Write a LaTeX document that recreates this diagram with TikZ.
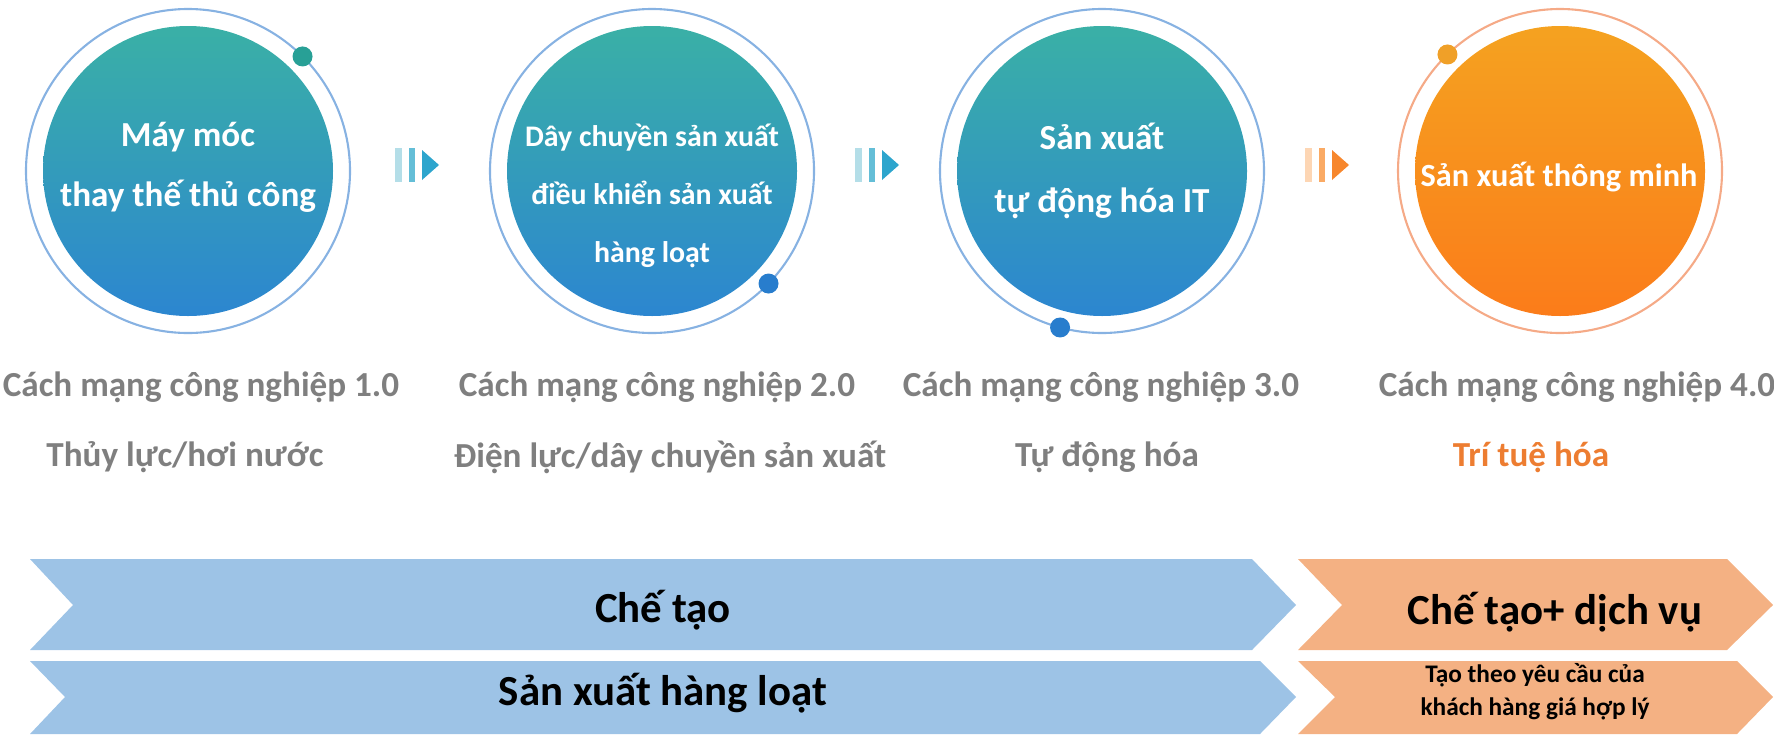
\documentclass[tikz,border=0pt]{standalone}
\usepackage{fontspec}
\setmainfont{Carlito}
\usetikzlibrary{shapes.geometric}

\definecolor{balltop}{RGB}{58,176,166}
\definecolor{ballbot}{RGB}{44,134,208}
\definecolor{ballotop}{RGB}{245,162,32}
\definecolor{ballobot}{RGB}{251,124,26}
\definecolor{ringblue}{RGB}{135,178,226}
\definecolor{ringorange}{RGB}{245,170,135}
\definecolor{dotteal}{RGB}{40,160,150}
\definecolor{dotblue}{RGB}{40,125,205}
\definecolor{dotorange}{RGB}{240,160,40}
\definecolor{chevblue}{RGB}{157,195,230}
\definecolor{chevorange}{RGB}{244,177,131}
\definecolor{labelgray}{RGB}{127,127,127}
\definecolor{accentorange}{RGB}{237,125,49}
\definecolor{markblueA}{RGB}{180,222,232}
\definecolor{markblueB}{RGB}{100,190,215}
\definecolor{markblueC}{RGB}{45,165,205}
\definecolor{markorangeA}{RGB}{253,214,180}
\definecolor{markorangeB}{RGB}{250,170,100}
\definecolor{markorangeC}{RGB}{247,135,45}

\def\flowmark(#1,#2)[#3][#4][#5]{%
	\fill[#3] (#1,#2-17) rectangle ++(7,34);
	\fill[#4] (#1+14,#2-17) rectangle ++(6,34);
	\fill[#5] (#1+27,#2-15) -- (#1+44,#2) -- (#1+27,#2+15) -- cycle;}

\begin{document}
\begin{tikzpicture}[x=0.1mm, y=0.1mm,
	ball/.style={circle, minimum size=29mm, inner sep=0pt, outer sep=0pt},
	blueball/.style={ball, top color=balltop, bottom color=ballbot},
	orangeball/.style={ball, top color=ballotop, bottom color=ballobot},
	ring/.style={circle, minimum size=32.4mm, inner sep=0pt, outer sep=0pt, draw=#1, line width=0.6pt},
	dotmark/.style={circle, fill=#1, minimum size=2mm, inner sep=0pt},
	balltext/.style={text=white, font=\bfseries\fontsize{10}{17}\selectfont, align=center},
	era/.style={text=labelgray, font=\bfseries\fontsize{10}{12}\selectfont},
	bandtext/.style={font=\bfseries\fontsize{12.2}{14}\selectfont},
	smalltext/.style={font=\bfseries\fontsize{7.2}{9.4}\selectfont, align=center}]
	%%%%% START %%%%%
	
	\useasboundingbox (0,0) rectangle (1774,743);
	
	\node[ring=ringblue] (r1) at (188,572) {};
	\node[blueball] (b1) at (r1) {};
	\node[dotmark=dotteal] (d1) at (r1.45) {};
	\node[balltext] (t1) at (188,576) {Máy móc\\thay thế thủ công};
	
	\node[ring=ringblue] (r2) at (652,572) {};
	\node[blueball] (b2) at (r2) {};
	\node[dotmark=dotblue] (d2) at (r2.-44) {};
	\node[balltext, font=\bfseries\fontsize{8.5}{16.5}\selectfont] (t2) at (652,547) {Dây chuyền sản xuất\\điều khiển sản xuất\\hàng loạt};
	
	\node[ring=ringblue] (r3) at (1102,572) {};
	\node[blueball] (b3) at (r3) {};
	\node[dotmark=dotblue] (d3) at (r3.-105) {};
	\node[balltext, font=\bfseries\fontsize{10}{18}\selectfont] (t3) at (1102,572) {Sản xuất\\tự động hóa IT};
	
	\node[ring=ringorange] (r4) at (1560,572) {};
	\node[orangeball] (b4) at (r4) {};
	\node[dotmark=dotorange] (d4) at (r4.134) {};
	\node[balltext, font=\bfseries\fontsize{9.2}{11}\selectfont] (t4) at (1559,566) {Sản xuất thông minh};
	
	\flowmark(395,578)[markblueA][markblueB][markblueC]
	\flowmark(855,578)[markblueA][markblueB][markblueC]
	\flowmark(1305,578)[markorangeA][markorangeB][markorangeC]
	
	\node[era] (g1) at (201,356) {Cách mạng công nghiệp 1.0};
	\node[era] (g2) at (657,356) {Cách mạng công nghiệp 2.0};
	\node[era] (g3) at (1101,356) {Cách mạng công nghiệp 3.0};
	\node[era] (g4) at (1577,356) {Cách mạng công nghiệp 4.0};
	
	\node[era] (e1) at (185,286) {Thủy lực/hơi nước};
	\node[era] (e2) at (670,286) {Điện lực/dây chuyền sản xuất};
	\node[era] (e3) at (1107,286) {Tự động hóa};
	\node[era, text=accentorange] (e4) at (1531,286) {Trí tuệ hóa};
	
	\fill[chevblue] (30,184) -- (1252,184) -- (1296,138) -- (1252,93) -- (30,93) -- (73,138) -- cycle;
	\fill[chevblue] (30,82) -- (1260,82) -- (1296,46) -- (1260,9) -- (30,9) -- (65,46) -- cycle;
	\fill[chevorange] (1298,184) -- (1727,184) -- (1773,138) -- (1727,93) -- (1298,93) -- (1342,138) -- cycle;
	\fill[chevorange] (1298,82) -- (1737,82) -- (1773,46) -- (1737,9) -- (1298,9) -- (1335,46) -- cycle;
	
	\node[bandtext] (m1) at (663,133) {Chế tạo};
	\node[bandtext] (m2) at (663,50) {Sản xuất hàng loạt};
	\node[bandtext] (s1) at (1555,131) {Chế tạo+ dịch vụ};
	\node[smalltext] (s2) at (1535,51) {Tạo theo yêu cầu của\\khách hàng giá hợp lý};
	
	%%%%% END %%%%%
\end{tikzpicture}
\end{document}
